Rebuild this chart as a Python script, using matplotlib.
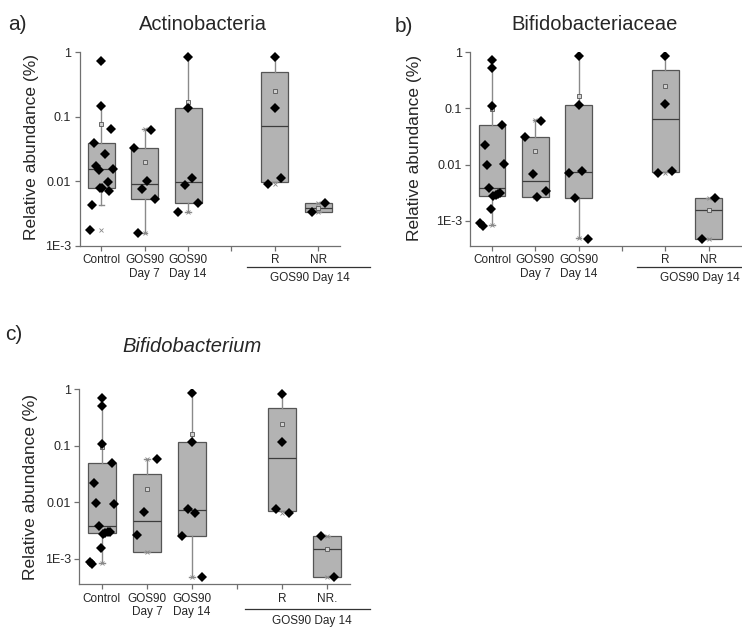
import numpy as np
import matplotlib
matplotlib.use("Agg")
import matplotlib.pyplot as plt
import matplotlib.transforms as mtransforms

plt.rcParams['font.family'] = ['Liberation Sans', 'DejaVu Sans']

positions = [1, 2, 3, 5, 6]
groups = ["Control", "GOS90\nDay 7", "GOS90\nDay 14", "R", "NR"]
groups_c = ["Control", "GOS90\nDay 7", "GOS90\nDay 14", "R", "NR."]

# ---- panel a: Actinobacteria ----
a_points = [
    [0.725, 0.147, 0.0638, 0.0396, 0.0264, 0.0172, 0.0149, 0.0157, 0.0096, 0.0079, 0.0078, 0.00713, 0.00422, 0.00175],
    [0.0324, 0.0623, 0.0101, 0.0077, 0.00536, 0.0016],
    [0.857, 0.135, 0.0111, 0.0088, 0.0046, 0.00337],
    [0.857, 0.135, 0.0111, 0.0089],
    [0.00464, 0.00334],
]
a_jitter = [
    [0, 0, 0.23, -0.17, 0.08, -0.12, -0.06, 0.28, 0.15, 0.015, -0.03, 0.18, -0.22, -0.26],
    [-0.25, 0.15, 0.05, -0.05, 0.25, -0.15],
    [0, 0, 0.085, -0.08, 0.22, -0.23],
    [0, 0, 0.15, -0.15],
    [0.15, -0.15],
]
a_q1 = [0.0079, 0.0053, 0.00454, 0.00984, 0.00333]
a_med = [0.0153, 0.00905, 0.00984, 0.0728, 0.00388]
a_q3 = [0.0396, 0.0324, 0.135, 0.495, 0.00464]
a_lo = [0.00427, 0.0016, 0.00337, 0.00984, 0.00333]
a_hi = [0.147, 0.0638, 0.857, 0.857, 0.00464]
a_mean = [0.078, 0.0199, 0.169, 0.251, 0.00388]
a_min = [0.00175, 0.0016, 0.00337, 0.0089, 0.00334]
a_max = [0.725, 0.0638, 0.857, 0.857, 0.00464]

# ---- panel b: Bifidobacteriaceae ----
b_points = [
    [0.740, 0.519, 0.110, 0.0507, 0.0226, 0.00995, 0.0101, 0.00376, 0.0028, 0.0029, 0.0030, 0.0031, 0.00159, 0.000895, 0.00081],
    [0.0314, 0.0605, 0.00687, 0.00337, 0.0026],
    [0.86, 0.117, 0.00767, 0.00697, 0.00253, 0.000483],
    [0.872, 0.118, 0.00767, 0.00697],
    [0.0025, 0.000483],
]
b_jitter = [
    [0, 0, 0, 0.23, -0.17, -0.115, 0.28, -0.07, 0.03, 0.08, 0.14, 0.19, -0.02, -0.28, -0.22],
    [-0.25, 0.14, -0.06, 0.24, 0.04],
    [0, 0, 0.08, -0.23, -0.08, 0.22],
    [0, 0, 0.15, -0.16],
    [0.14, -0.15],
]
b_q1 = [0.00279, 0.0026, 0.00253, 0.00726, 0.000483]
b_med = [0.00376, 0.00508, 0.00726, 0.064, 0.00153]
b_q3 = [0.0507, 0.0314, 0.117, 0.491, 0.0025]
b_lo = [0.00085, 0.0026, 0.000497, 0.00726, 0.000483]
b_hi = [0.74, 0.0622, 0.86, 0.872, 0.0025]
b_mean = [0.0977, 0.0177, 0.169, 0.251, 0.00153]
b_min = [0.00085, 0.0026, 0.000497, 0.00697, 0.000483]
b_max = [0.74, 0.0622, 0.86, 0.872, 0.0025]

# ---- panel c: Bifidobacterium ----
c_points = [
    [0.712, 0.50, 0.108, 0.0499, 0.0224, 0.0099, 0.0094, 0.00379, 0.0028, 0.0029, 0.0030, 0.0030, 0.00159, 0.000887, 0.000805],
    [0.0595, 0.00678, 0.00262],
    [0.85, 0.117, 0.00777, 0.0066, 0.00252, 0.000488],
    [0.838, 0.117, 0.00766, 0.0066],
    [0.00252, 0.000481],
]
c_jitter = [
    [0, 0, 0, 0.22, -0.18, -0.125, 0.27, -0.07, 0.03, 0.08, 0.13, 0.18, -0.03, -0.27, -0.22],
    [0.22, -0.07, -0.22],
    [0, 0, -0.08, 0.07, -0.23, 0.22],
    [0, 0, -0.15, 0.15],
    [-0.15, 0.15],
]
c_q1 = [0.00285, 0.00131, 0.00252, 0.00716, 0.000481]
c_med = [0.00384, 0.0047, 0.00726, 0.062, 0.00148]
c_q3 = [0.0492, 0.0323, 0.117, 0.474, 0.00255]
c_lo = [0.00084, 0.00131, 0.000488, 0.00716, 0.000481]
c_hi = [0.712, 0.0595, 0.85, 0.838, 0.00255]
c_mean = [0.094, 0.0173, 0.164, 0.244, 0.00148]
c_min = [0.00084, 0.00131, 0.000488, 0.0066, 0.000481]
c_max = [0.712, 0.0595, 0.85, 0.838, 0.00255]

ytick_vals = [1e-3, 1e-2, 1e-1, 1]
ytick_text = ["1E-3", "0.01", "0.1", "1"]

BOX = "#b3b3b3"
EDGE = "#555555"
WHISK = "#8a8a8a"
SPINE = "#707070"
TXT = "#262626"


def draw_panel(ax, points, jitter, q1, med, q3, lo, hi, mean, mn, mx, labels, ylim, xlim):
    ax.set_yscale("log")
    stats = []
    for i in range(len(positions)):
        stats.append(dict(q1=q1[i], med=med[i], q3=q3[i], whislo=lo[i], whishi=hi[i],
                          mean=mean[i], fliers=[mn[i], mx[i]]))
    ax.bxp(stats, positions=positions, widths=0.62, capwidths=0.12, showmeans=True,
           patch_artist=True, manage_ticks=False,
           boxprops=dict(facecolor=BOX, edgecolor=EDGE, linewidth=0.9),
           medianprops=dict(color="#3c3c3c", linewidth=0.9),
           whiskerprops=dict(color=WHISK, linewidth=1.0),
           capprops=dict(color=WHISK, linewidth=1.0),
           meanprops=dict(marker="s", markersize=2.6, markerfacecolor="#d0d0d0",
                          markeredgecolor="#555555", markeredgewidth=0.6),
           flierprops=dict(marker="x", markersize=2.2, markeredgecolor="#888888",
                           markeredgewidth=0.6))
    for pos, vals, jit in zip(positions, points, jitter):
        ax.plot(pos + np.array(jit), vals, "D", color="black", markersize=4.6,
                markeredgewidth=0, zorder=5)
    ax.set_ylim(*ylim)
    ax.set_xlim(*xlim)
    ax.set_yticks(ytick_vals)
    ax.set_yticklabels(ytick_text)
    ax.yaxis.set_minor_locator(matplotlib.ticker.NullLocator())
    ax.set_xticks([1, 2, 3, 4, 5, 6])
    ax.set_xticklabels(labels[:3] + [""] + labels[3:])
    for s in ["top", "right"]:
        ax.spines[s].set_visible(False)
    for s in ["left", "bottom"]:
        ax.spines[s].set_color(SPINE)
        ax.spines[s].set_linewidth(0.9)
    ax.tick_params(axis="x", colors=SPINE, labelcolor=TXT, labelsize=8.5,
                   length=3.5, width=0.9, pad=2.5)
    ax.tick_params(axis="y", colors=SPINE, labelcolor=TXT, labelsize=9,
                   length=3.5, width=0.9, pad=2.5)


def bracket(ax, x0, x1, yline, xtext, ytext):
    tr = mtransforms.blended_transform_factory(ax.transData, ax.transAxes)
    ax.plot([x0, x1], [yline, yline], color="#333333", linewidth=0.9,
            transform=tr, clip_on=False)
    ax.text(xtext, ytext, "GOS90 Day 14", transform=tr, ha="center", va="center",
            fontsize=8.5, color=TXT)


fig = plt.figure(figsize=(7.42, 6.3), dpi=100)

ax_a = fig.add_axes([79.5 / 742, 1 - 245.7 / 630, 260.5 / 742, 193.4 / 630])
draw_panel(ax_a, a_points, a_jitter, a_q1, a_med, a_q3, a_lo, a_hi, a_mean, a_min, a_max,
           groups, (1e-3, 1.0), (0.5, 6.5))
bracket(ax_a, 4.36, 7.19, -0.110, 5.81, -0.168)

ax_b = fig.add_axes([470.4 / 742, 1 - 245.7 / 630, 272 / 742, 193.4 / 630])
draw_panel(ax_b, b_points, b_jitter, b_q1, b_med, b_q3, b_lo, b_hi, b_mean, b_min, b_max,
           groups, (3.6e-4, 1.0), (0.5, 6.78))
bracket(ax_b, 4.35, 7.2, -0.110, 5.8, -0.168)

ax_c = fig.add_axes([79.3 / 742, 1 - 584.3 / 630, 270.7 / 742, 195 / 630])
draw_panel(ax_c, c_points, c_jitter, c_q1, c_med, c_q3, c_lo, c_hi, c_mean, c_min, c_max,
           groups_c, (3.56e-4, 1.0), (0.5, 6.5))
bracket(ax_c, 4.17, 6.94, -0.127, 5.66, -0.188)

# titles, panel letters, y labels
fig.text(203 / 742, 1 - 25 / 630, "Actinobacteria", ha="center", va="center", fontsize=14.5, color=TXT)
fig.text(595 / 742, 1 - 25 / 630, "Bifidobacteriaceae", ha="center", va="center", fontsize=14.5, color=TXT)
fig.text(192 / 742, 1 - 347 / 630, "Bifidobacterium", ha="center", va="center", fontsize=14.5,
         color=TXT, style="italic")
fig.text(8 / 742, 1 - 24 / 630, "a)", ha="left", va="center", fontsize=15, color=TXT)
fig.text(395 / 742, 1 - 26 / 630, "b)", ha="left", va="center", fontsize=15, color=TXT)
fig.text(5 / 742, 1 - 334 / 630, "c)", ha="left", va="center", fontsize=15, color=TXT)
fig.text(32 / 742, 1 - 147 / 630, "Relative abundance (%)", rotation=90, ha="center",
         va="center", fontsize=12.5, color=TXT)
fig.text(415 / 742, 1 - 148 / 630, "Relative abundance (%)", rotation=90, ha="center",
         va="center", fontsize=12.5, color=TXT)
fig.text(31 / 742, 1 - 487 / 630, "Relative abundance (%)", rotation=90, ha="center",
         va="center", fontsize=12.5, color=TXT)

fig.savefig("out.png", dpi=100)
